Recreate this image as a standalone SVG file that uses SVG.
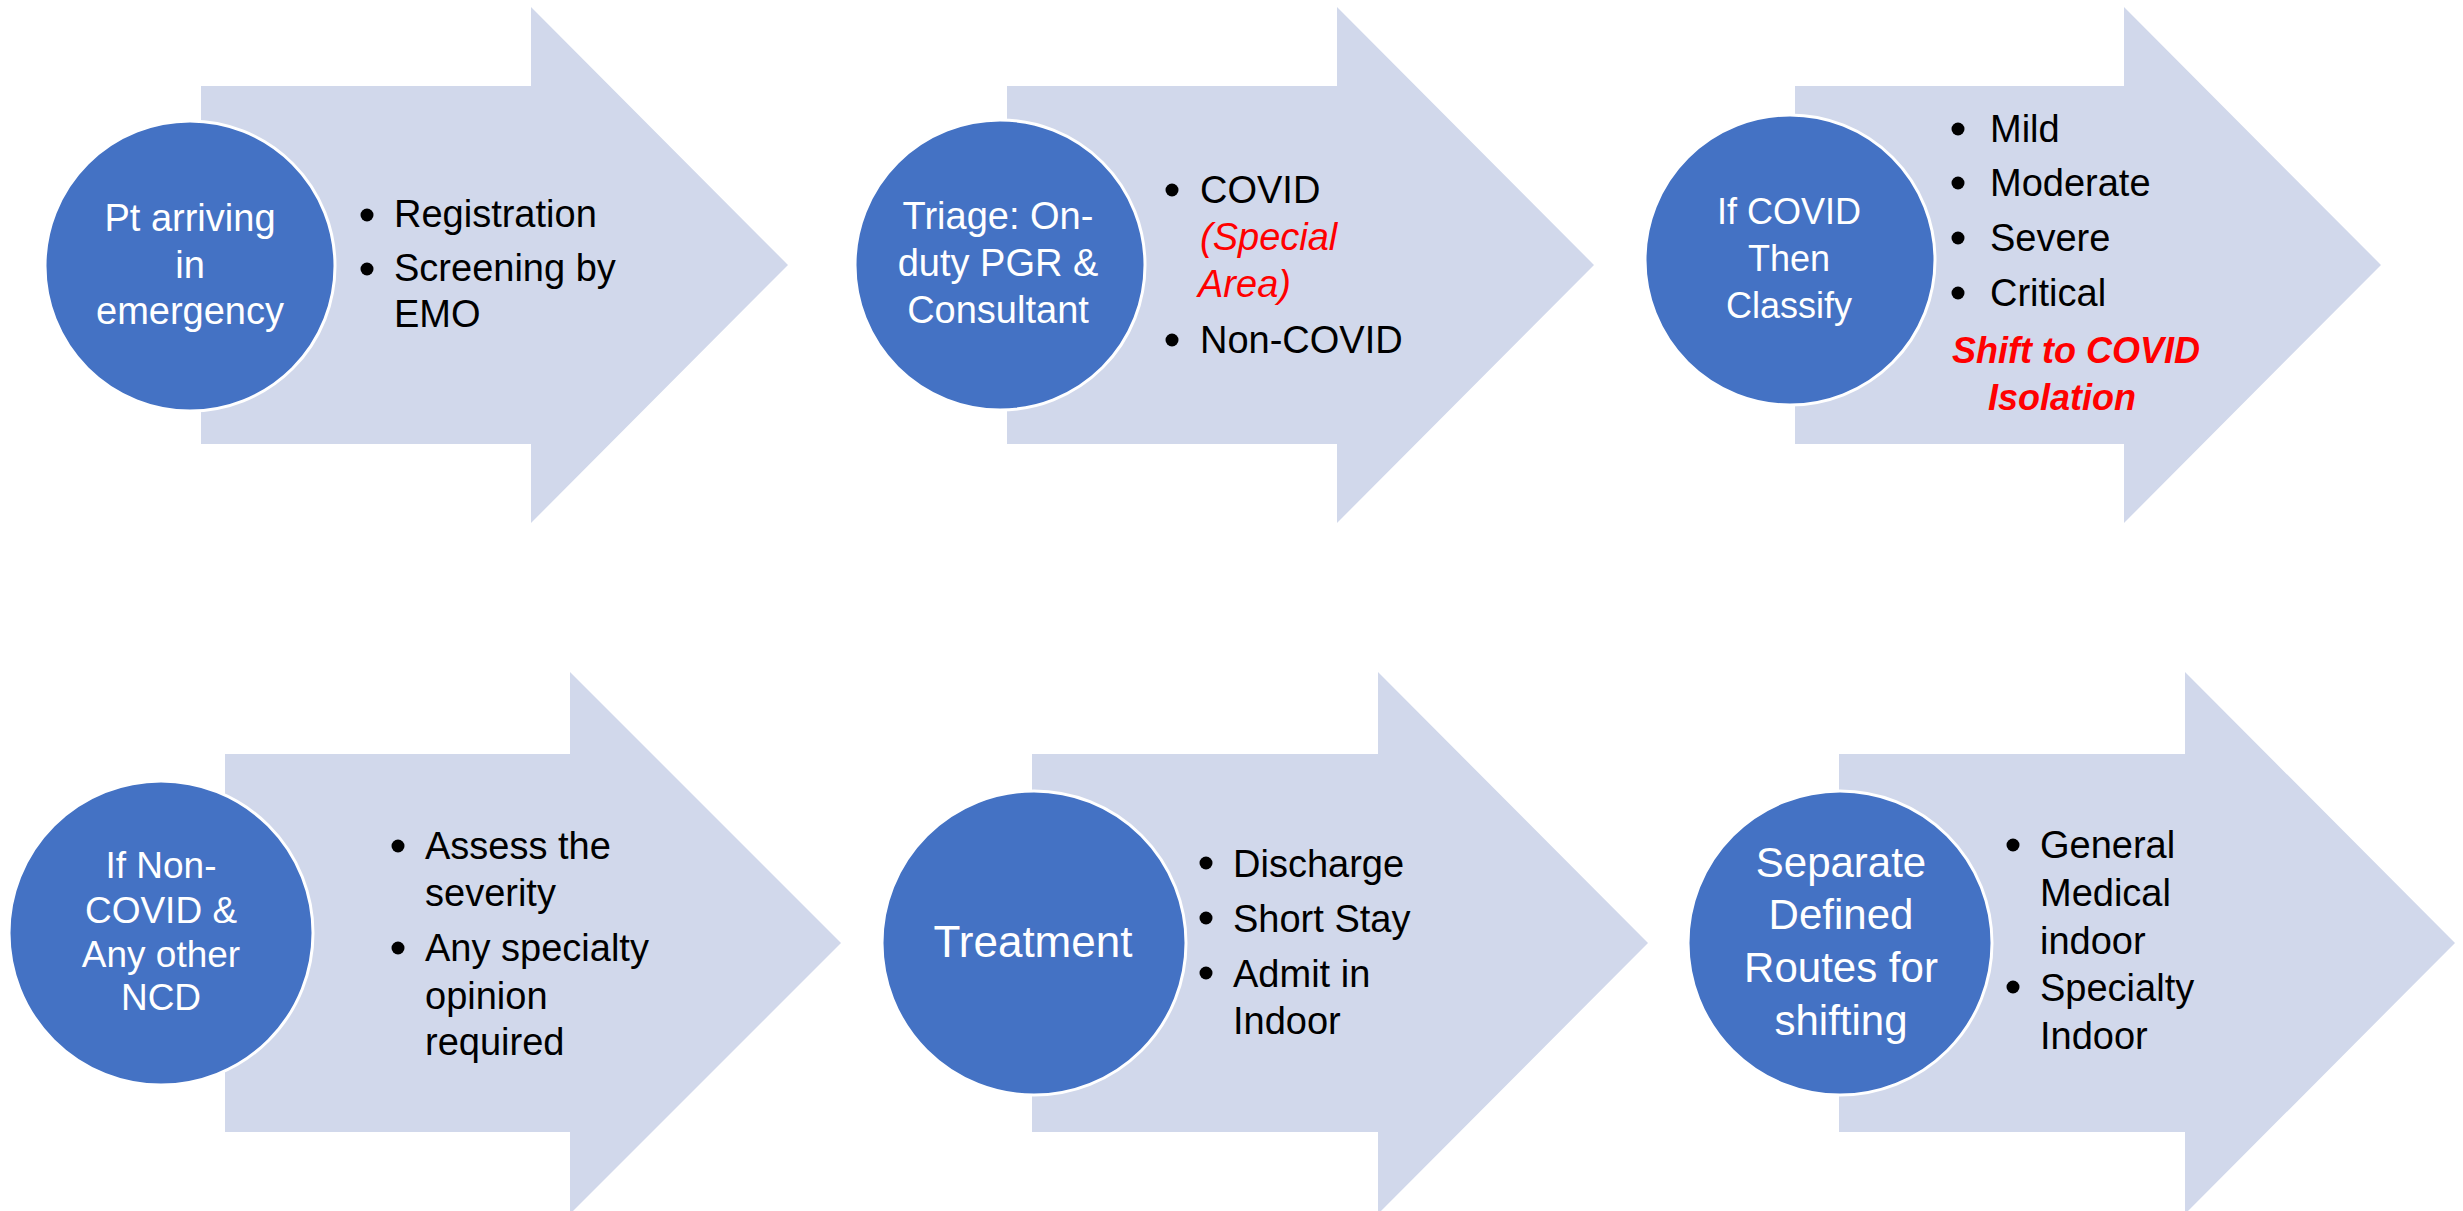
<svg xmlns="http://www.w3.org/2000/svg" width="2463" height="1211" viewBox="0 0 2463 1211">
<style>
.arrow{fill:#D1D8EB;}
.circ{fill:#4472C4;stroke:#FFFFFF;stroke-width:3;}
.ct{font-family:"Liberation Sans",Arial,sans-serif;fill:#FFFFFF;text-anchor:middle;}
.bt{font-family:"Liberation Sans",Arial,sans-serif;fill:#000000;font-size:38px;}
.red{fill:#FF0000;font-style:italic;}
.redb{fill:#FF0000;font-style:italic;font-weight:bold;font-size:36px;}
.dot{fill:#000000;}
</style>
<rect width="2463" height="1211" fill="#FFFFFF"/>
<g id="connectors"></g>

<g id="node1">
<path class="arrow" d="M201,86 H531 V7 L788,265 L531,523 V444 H201 Z"/>
<circle class="circ" cx="190" cy="266" r="145"/>
<text class="ct" font-size="38"><tspan x="190" y="231">Pt arriving</tspan><tspan x="190" y="278">in</tspan><tspan x="190" y="324">emergency</tspan></text>
<circle class="dot" cx="367" cy="215" r="6.5"/>
<circle class="dot" cx="367" cy="269" r="6.5"/>
<text class="bt"><tspan x="394" y="227">Registration</tspan><tspan x="394" y="281">Screening by</tspan><tspan x="394" y="327">EMO</tspan></text>
</g>

<g id="node2">
<path class="arrow" d="M1007,86 H1337 V7 L1594,265 L1337,523 V444 H1007 Z"/>
<circle class="circ" cx="1000" cy="265" r="145"/>
<text class="ct" font-size="38"><tspan x="998" y="229">Triage: On-</tspan><tspan x="998" y="276">duty PGR &amp;</tspan><tspan x="998" y="323">Consultant</tspan></text>
<circle class="dot" cx="1172" cy="190" r="6.5"/>
<circle class="dot" cx="1172" cy="340" r="6.5"/>
<text class="bt"><tspan x="1200" y="203">COVID</tspan><tspan class="red" x="1200" y="250">(Special</tspan><tspan class="red" x="1198" y="297">Area)</tspan><tspan x="1200" y="353">Non-COVID</tspan></text>
</g>

<g id="node3">
<path class="arrow" d="M1795,86 H2124 V7 L2381,265 L2124,523 V444 H1795 Z"/>
<circle class="circ" cx="1790" cy="260" r="145"/>
<text class="ct" font-size="36"><tspan x="1789" y="224">If COVID</tspan><tspan x="1789" y="271">Then</tspan><tspan x="1789" y="318">Classify</tspan></text>
<circle class="dot" cx="1958" cy="129" r="6.5"/>
<circle class="dot" cx="1958" cy="183" r="6.5"/>
<circle class="dot" cx="1958" cy="238" r="6.5"/>
<circle class="dot" cx="1958" cy="293" r="6.5"/>
<text class="bt"><tspan x="1990" y="142">Mild</tspan><tspan x="1990" y="196">Moderate</tspan><tspan x="1990" y="251">Severe</tspan><tspan x="1990" y="306">Critical</tspan></text>
<text class="bt redb"><tspan x="1952" y="363">Shift to COVID</tspan><tspan x="1988" y="410">Isolation</tspan></text>
</g>

<g id="node4">
<path class="arrow" d="M225,754 H570 V672 L841,943 L570,1214 V1132 H225 Z"/>
<circle class="circ" cx="161" cy="933" r="152"/>
<text class="ct" font-size="37"><tspan x="161" y="878">If Non-</tspan><tspan x="161" y="923">COVID &amp;</tspan><tspan x="161" y="967">Any other</tspan><tspan x="161" y="1010">NCD</tspan></text>
<circle class="dot" cx="398" cy="846" r="6.5"/>
<circle class="dot" cx="398" cy="948" r="6.5"/>
<text class="bt"><tspan x="425" y="859">Assess the</tspan><tspan x="425" y="906">severity</tspan><tspan x="425" y="961">Any specialty</tspan><tspan x="425" y="1009">opinion</tspan><tspan x="425" y="1055">required</tspan></text>
</g>

<g id="node5">
<path class="arrow" d="M1032,754 H1378 V672 L1648,943 L1378,1214 V1132 H1032 Z"/>
<circle class="circ" cx="1034" cy="943" r="152"/>
<text class="ct" font-size="44"><tspan x="1033" y="957">Treatment</tspan></text>
<circle class="dot" cx="1206" cy="863" r="6.5"/>
<circle class="dot" cx="1206" cy="918" r="6.5"/>
<circle class="dot" cx="1206" cy="973" r="6.5"/>
<text class="bt"><tspan x="1233" y="877">Discharge</tspan><tspan x="1233" y="932">Short Stay</tspan><tspan x="1233" y="987">Admit in</tspan><tspan x="1233" y="1034">Indoor</tspan></text>
</g>

<g id="node6">
<path class="arrow" d="M1839,754 H2185 V672 L2455,943 L2185,1214 V1132 H1839 Z"/>
<circle class="circ" cx="1840" cy="943" r="152"/>
<text class="ct" font-size="42"><tspan x="1841" y="877">Separate</tspan><tspan x="1841" y="929">Defined</tspan><tspan x="1841" y="982">Routes for</tspan><tspan x="1841" y="1035">shifting</tspan></text>
<circle class="dot" cx="2013" cy="845" r="6.5"/>
<circle class="dot" cx="2013" cy="987" r="6.5"/>
<text class="bt"><tspan x="2040" y="858">General</tspan><tspan x="2040" y="906">Medical</tspan><tspan x="2040" y="954">indoor</tspan><tspan x="2040" y="1001">Specialty</tspan><tspan x="2040" y="1049">Indoor</tspan></text>
</g>
</svg>
